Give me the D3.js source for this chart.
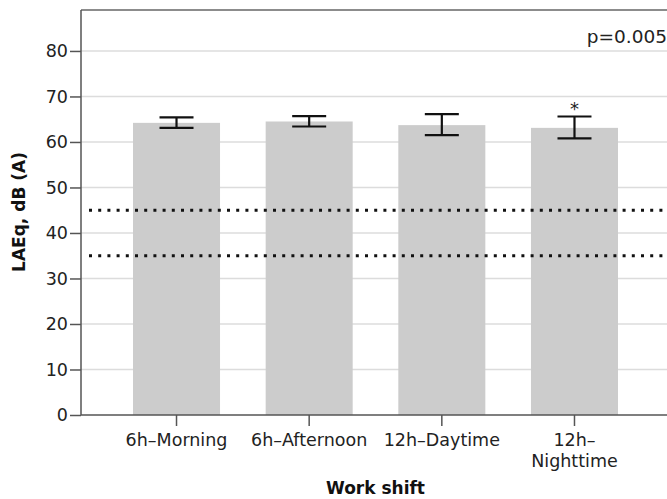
<!DOCTYPE html>
<html><head><meta charset="utf-8">
<script src="https://cdn.jsdelivr.net/npm/d3@7"></script>
<style>body{margin:0;background:#fff}svg{display:block}text{font-family:"DejaVu Sans",sans-serif}</style>
</head><body><svg id="c" width="667" height="499"></svg>
<script>
const categories = ["6h\u2013Morning", "6h\u2013Afternoon", "12h\u2013Daytime", "12h\u2013\nNighttime"];
const means = [64.2, 64.5, 63.7, 63.1];
const lower = [63.1, 63.4, 61.5, 60.8];
const upper = [65.4, 65.7, 66.1, 65.6];
const marks = ["", "", "", "*"];
const refLines = [45, 35];
const yTicks = [0, 10, 20, 30, 40, 50, 60, 70, 80];
const pLabel = "p=0.005";
const yTitle = "LAEq, dB (A)";
const xTitle = "Work shift";

const svg = d3.select("#c");
const L = 81, R = 670, T = 10, B = 415;
const FS = 17.5;
const y = d3.scaleLinear().domain([0, 89]).range([B, T]);
const x = d3.scaleBand().domain(categories).range([L, R]).paddingInner(0.344).paddingOuter(0.392);

// gridlines
svg.append("g").selectAll("line").data(yTicks.filter(d => d > 0)).join("line")
  .attr("x1", L).attr("x2", 667).attr("y1", d => y(d)).attr("y2", d => y(d))
  .attr("stroke", "#dcdcdc").attr("stroke-width", 1.5);

// bars
svg.append("g").selectAll("rect").data(categories).join("rect")
  .attr("x", d => x(d)).attr("width", x.bandwidth())
  .attr("y", (d, i) => y(means[i])).attr("height", (d, i) => B - y(means[i]))
  .attr("fill", "#cccccc");

// reference dotted lines
svg.append("g").selectAll("line").data(refLines).join("line")
  .attr("x1", L + 8).attr("x2", 667).attr("y1", d => y(d)).attr("y2", d => y(d))
  .attr("stroke", "#111").attr("stroke-width", 3).attr("stroke-dasharray", "3,6.2");

// error bars
const eb = svg.append("g").attr("stroke", "#111").attr("stroke-width", 2.2);
categories.forEach((c, i) => {
  const cx = x(c) + x.bandwidth() / 2, hw = 17;
  eb.append("line").attr("x1", cx).attr("x2", cx).attr("y1", y(upper[i])).attr("y2", y(lower[i]));
  eb.append("line").attr("x1", cx - hw).attr("x2", cx + hw).attr("y1", y(upper[i])).attr("y2", y(upper[i]));
  eb.append("line").attr("x1", cx - hw).attr("x2", cx + hw).attr("y1", y(lower[i])).attr("y2", y(lower[i]));
  if (marks[i]) svg.append("text").attr("x", cx).attr("y", y(upper[i]) - 1).attr("text-anchor", "middle")
    .attr("font-size", 18).attr("fill", "#222").text(marks[i]);
});

// top frame
svg.append("line").attr("x1", L).attr("x2", 667).attr("y1", T).attr("y2", T).attr("stroke", "#666").attr("stroke-width", 1.5);

// y axis
const ya = svg.append("g").attr("transform", `translate(${L},0)`)
  .call(d3.axisLeft(y).tickValues(yTicks).tickSize(11).tickPadding(2).tickSizeOuter(0));
ya.select(".domain").attr("stroke", "#555").attr("stroke-width", 1.5).attr("d", `M0,${T}V${B}`);
ya.selectAll(".tick line").attr("stroke", "#555").attr("stroke-width", 1.5);
ya.selectAll(".tick text").attr("font-size", FS).attr("fill", "#222").attr("font-family", "DejaVu Sans");

// x axis
const xa = svg.append("g").attr("transform", `translate(0,${B})`)
  .call(d3.axisBottom(x).tickSize(11).tickSizeOuter(0).tickFormat(""));
xa.select(".domain").attr("stroke", "#555").attr("stroke-width", 1.5).attr("d", `M${L},0H667`);
xa.selectAll(".tick line").attr("stroke", "#555").attr("stroke-width", 1.5);
xa.selectAll(".tick").each(function (d) {
  const lines = d.split("\n");
  const t = d3.select(this).append("text").attr("text-anchor", "middle").attr("fill", "#222")
    .attr("font-size", FS).attr("font-family", "DejaVu Sans");
  lines.forEach((s, k) => t.append("tspan").attr("x", 0).attr("y", 31 + k * 20.5).text(s));
});

// titles
svg.append("text").attr("x", (L + R) / 2).attr("y", 494).attr("text-anchor", "middle")
  .attr("font-size", 17).attr("font-weight", "bold").attr("fill", "#111").text(xTitle);
svg.append("text").attr("transform", "translate(25,212) rotate(-90)").attr("text-anchor", "middle")
  .attr("font-size", 17).attr("font-weight", "bold").attr("fill", "#111").text(yTitle);
svg.append("text").attr("x", 667).attr("y", 43).attr("text-anchor", "end")
  .attr("font-size", 18.5).attr("fill", "#222").text(pLabel);
</script></body></html>
